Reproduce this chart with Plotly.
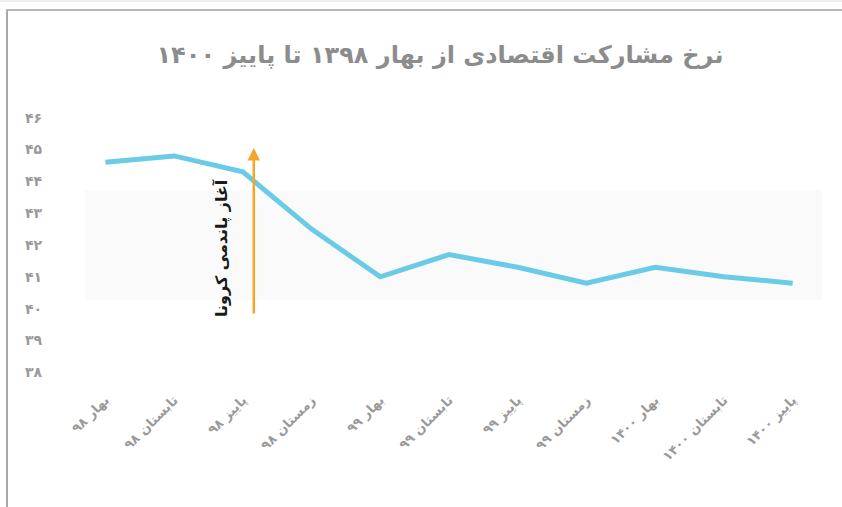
import plotly.graph_objects as go

categories = ["بهار ۹۸", "تابستان ۹۸", "پاییز ۹۸", "زمستان ۹۸", "بهار ۹۹", "تابستان ۹۹",
              "پاییز ۹۹", "زمستان ۹۹", "بهار ۱۴۰۰", "تابستان ۱۴۰۰", "پاییز ۱۴۰۰"]
rate = [44.6, 44.8, 44.3, 42.5, 41.0, 41.7, 41.3, 40.8, 41.3, 41.0, 40.8]
ytick_vals = [38, 39, 40, 41, 42, 43, 44, 45, 46]
ytick_text = ["۳۸", "۳۹", "۴۰", "۴۱", "۴۲", "۴۳", "۴۴", "۴۵", "۴۶"]
title_text = "نرخ مشارکت اقتصادی از بهار ۱۳۹۸ تا پاییز ۱۴۰۰"
note_text = "آغاز پاندمی کرونا"

W, H = 842, 507
L, R, T, B = 71, 15, 105, 122
pw, ph = W - L - R, H - T - B

def px(x):
    return (x - L) / pw

def py(y):
    return (H - B - y) / ph

xi = list(range(len(categories)))

fig = go.Figure()
fig.add_trace(go.Scatter(
    x=xi, y=rate, mode="lines",
    line=dict(color="#6acbe6", width=5),
    hoverinfo="skip", showlegend=False,
))

fig.update_layout(
    width=W, height=H,
    margin=dict(l=L, r=R, t=T, b=B),
    paper_bgcolor="white", plot_bgcolor="white",
    font=dict(family="DejaVu Sans", color="#9a9a9a"),
    title=dict(text="<b>" + title_text + "</b>", x=px(466), xanchor="center",
               y=1 - 55 / H, yanchor="middle",
               font=dict(size=24, color="#8c8c8c", family="DejaVu Sans")),
    xaxis=dict(range=[-0.5, 10.5], tickvals=xi, ticktext=["<b>" + c + "</b>" for c in categories],
               tickangle=-45, showgrid=False, zeroline=False, showline=False,
               tickfont=dict(size=13, color="#9a9a9a"), ticks="", ticklabelstandoff=4),
    yaxis=dict(range=[37.6, 46.4], tickvals=ytick_vals, ticktext=["<b>" + t + "</b>" for t in ytick_text],
               showgrid=False, zeroline=False, showline=False,
               tickfont=dict(size=14, color="#9a9a9a"), ticks="", ticklabelstandoff=28),
)

# faint watermark band
fig.add_shape(type="rect", xref="paper", yref="paper", x0=px(85), x1=px(822), y0=py(300), y1=py(190),
              fillcolor="#fafafa", line=dict(width=0), layer="below")
# frame lines
fig.add_shape(type="line", xref="paper", yref="paper", x0=px(7), x1=px(7), y0=py(10), y1=py(H),
              line=dict(color="#a8a8a8", width=2))
fig.add_shape(type="line", xref="paper", yref="paper", x0=px(6), x1=px(W), y0=py(10), y1=py(10),
              line=dict(color="#b8b8b8", width=2))
fig.add_shape(type="line", xref="paper", yref="paper", x0=px(0), x1=px(W), y0=py(1), y1=py(1),
              line=dict(color="#e0e0e0", width=1))

# pandemic arrow
fig.add_annotation(x=2.16, y=45.05, ax=2.16, ay=39.8, xref="x", yref="y", axref="x", ayref="y",
                   showarrow=True, arrowhead=2, arrowsize=1, arrowwidth=2.5, arrowcolor="#f6a52a",
                   text="")
fig.add_annotation(x=1.68, y=41.9, xref="x", yref="y", text="<b>" + note_text + "</b>",
                   textangle=-90, showarrow=False,
                   font=dict(size=16, color="#1a1a1a", family="DejaVu Sans"))

fig.write_html("out.html", config={"displayModeBar": False},
               post_script="document.body.style.margin='0';document.body.style.overflow='hidden';")
